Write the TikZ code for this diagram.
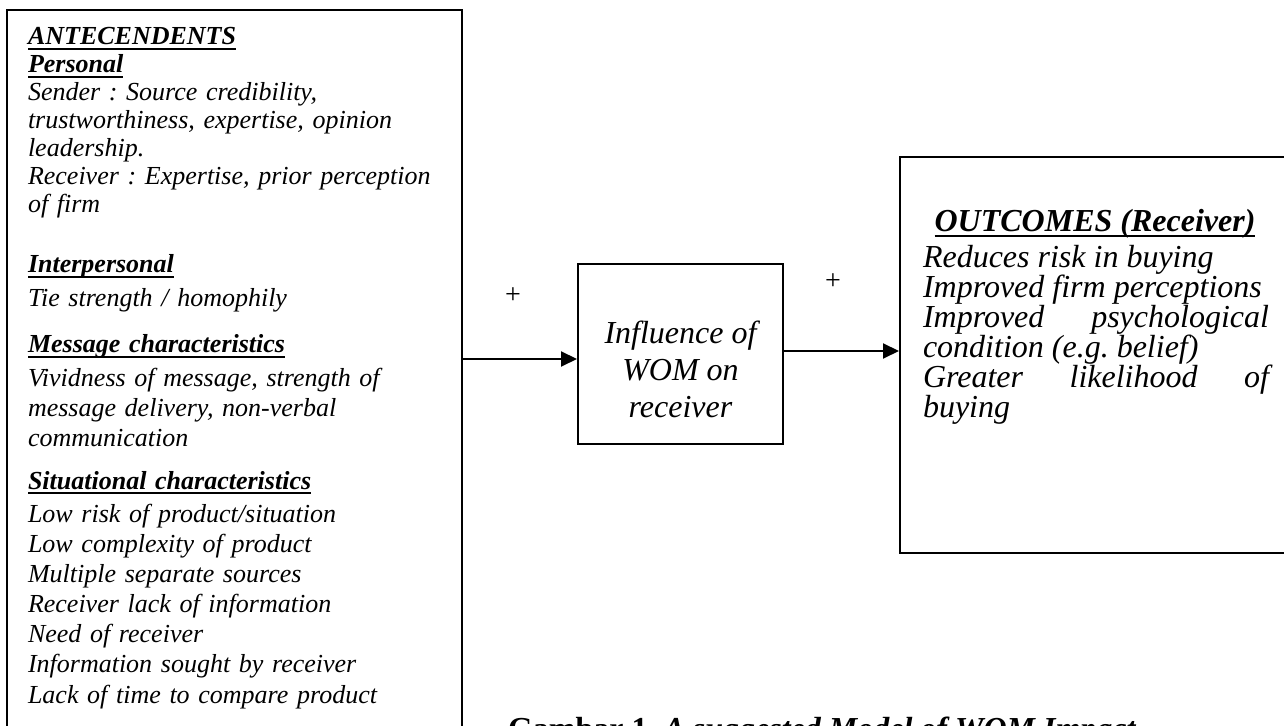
\documentclass[tikz,border=0pt]{standalone}
\usepackage{fontspec}
\setmainfont{Liberation Serif}
\usetikzlibrary{arrows.meta}

\newcommand{\uln}[1]{\leavevmode\setbox0\hbox{#1}%
  \rlap{\rule[-2.6pt]{\wd0}{1pt}}\box0}
\newcommand{\sechead}[1]{\uln{\textbf{#1}}}
\newcommand{\nohyph}{\hyphenpenalty=10000\exhyphenpenalty=10000\relax}
\frenchspacing

\begin{document}
\begin{tikzpicture}[x = 0.5pt, y = -0.5pt, % one unit is one pixel, y runs down
                > = {Triangle[length = 8pt, width = 7.5pt]}, % arrow head style
                line width = 1pt % line style
            ]

            \tikzstyle{frame}=[draw = black, rectangle, inner sep = 0pt]
            \tikzstyle{antebox}=[anchor = base west, inner sep = 0pt,
            text width = 215pt, align = left,
            font = \fontsize{13}{15}\selectfont\itshape]
            \tikzstyle{plus}=[inner sep = 0pt, font = \fontsize{14}{16}\selectfont]

            \useasboundingbox (0,0) rectangle (1284,726);
            \clip (0,0) rectangle (1284,726);

            % antecedents
            \node[frame, minimum width = 227.5pt, minimum height = 375pt] (ante)
            at (234.5,385) {};
            \node[antebox, font = \fontsize{13}{14}\selectfont\itshape] (personal)
            at (27,45) {\sechead{ANTECENDENTS}\\ \sechead{Personal}\\
            Sender : Source credibility,\\ trustworthiness, expertise, opinion\\
            leadership.\\ Receiver : Expertise, prior perception\\ of firm};
            \node[antebox] (interp) at (27,273) {\sechead{Interpersonal}\\[2pt]
            Tie strength / homophily};
            \node[antebox] (message) at (27,353) {\sechead{Message
            characteristics}\\[2pt] Vividness of message, strength of\\ message
            delivery, non-verbal\\ communication};
            \node[antebox] (situation) at (27,489) {\sechead{Situational
            characteristics}\\[2pt] Low risk of product/situation\\ Low complexity
            of product\\ Multiple separate sources\\ Receiver lack of information\\
            Need of receiver\\ Information sought by receiver\\ Lack of time to
            compare product};

            % influence
            \node[frame, minimum width = 102.5pt, minimum height = 90pt] (wom)
            at (680.5,354) {};
            \node[align = center, font = \fontsize{16}{18.5}\selectfont\itshape]
            (womtext) at (680.5,369) {Influence of\\ WOM on\\ receiver};

            % outcomes
            \node[frame, minimum width = 200pt, minimum height = 198pt] (outc)
            at (1100,355) {};
            \node[anchor = base, inner sep = 0pt,
            font = \fontsize{16}{19}\selectfont\itshape] (outhead)
            at (1095,232) {\sechead{OUTCOMES (Receiver)}};
            \node[anchor = base west, inner sep = 0pt, text width = 173pt,
            align = justify, font = \fontsize{16}{15}\selectfont\itshape\nohyph]
            (outlist) at (922,268) {Reduces risk in buying\par Improved firm
            perceptions\par Improved psychological condition (e.g. belief)\par
            Greater likelihood of buying};

            \node[plus] (plusa) at (513,296) {+};
            \node[plus] (plusb) at (833,282) {+};

            \path[->] ([yshift = -2.5pt]ante.east |- wom.west) edge
            ([yshift = -2.5pt]wom.west); \path[->] ([yshift = 1.5pt]wom.east) edge
            ([yshift = 1.5pt]outc.west |- wom.east);

            \node[anchor = base west, inner sep = 0pt,
            font = \fontsize{16}{19}\selectfont\bfseries] (caption) at (507,739)
            {Gambar 1. \textit{A suggested Model of WOM Impact}};
\end{tikzpicture}
\end{document}
